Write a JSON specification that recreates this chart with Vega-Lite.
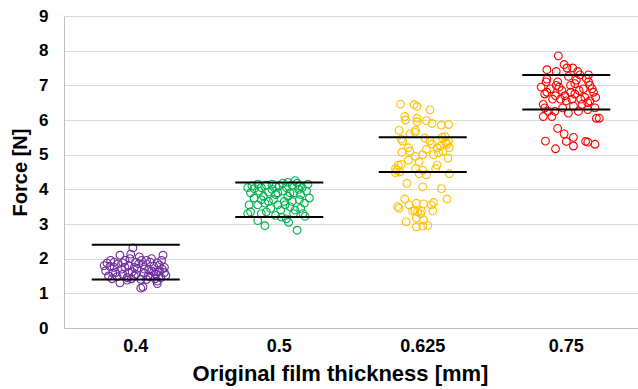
{
"$schema": "https://vega.github.io/schema/vega-lite/v6.json",
"width": 574, "height": 312, "autosize": "none",
"padding": {"left": 64, "top": 16, "right": 0, "bottom": 61},
"background": "white",
"config": {"view": {"stroke": null}, "axis": {"labelFont": "Liberation Sans", "titleFont": "Liberation Sans"}},
"datasets": {
"pts": [
{"t":"0.4","j":-0.40,"f":1.87},{"t":"0.4","j":-0.35,"f":1.95},{"t":"0.4","j":-0.30,"f":1.75},{"t":"0.4","j":-0.28,"f":1.60},{"t":"0.4","j":-0.42,"f":1.65},{"t":"0.4","j":-0.38,"f":1.50},{"t":"0.4","j":-0.33,"f":1.42},{"t":"0.4","j":-0.25,"f":1.85},{"t":"0.4","j":-0.22,"f":2.10},{"t":"0.4","j":-0.20,"f":1.70},{"t":"0.4","j":-0.18,"f":1.55},{"t":"0.4","j":-0.15,"f":1.95},{"t":"0.4","j":-0.12,"f":1.45},{"t":"0.4","j":-0.10,"f":1.80},{"t":"0.4","j":-0.08,"f":2.00},{"t":"0.4","j":-0.05,"f":1.62},{"t":"0.4","j":-0.04,"f":2.31},{"t":"0.4","j":-0.07,"f":2.13},{"t":"0.4","j":-0.02,"f":1.50},{"t":"0.4","j":0.00,"f":1.90},{"t":"0.4","j":0.02,"f":1.72},{"t":"0.4","j":0.05,"f":2.05},{"t":"0.4","j":0.07,"f":1.40},{"t":"0.4","j":0.10,"f":1.83},{"t":"0.4","j":0.12,"f":1.58},{"t":"0.4","j":0.15,"f":1.95},{"t":"0.4","j":0.18,"f":1.68},{"t":"0.4","j":0.20,"f":1.48},{"t":"0.4","j":0.22,"f":2.00},{"t":"0.4","j":0.25,"f":1.78},{"t":"0.4","j":0.28,"f":1.55},{"t":"0.4","j":0.30,"f":1.88},{"t":"0.4","j":0.33,"f":1.65},{"t":"0.4","j":0.35,"f":1.45},{"t":"0.4","j":0.38,"f":2.10},{"t":"0.4","j":0.40,"f":1.75},{"t":"0.4","j":0.42,"f":1.52},{"t":"0.4","j":0.36,"f":1.95},{"t":"0.4","j":0.30,"f":1.35},{"t":"0.4","j":0.31,"f":1.62},{"t":"0.4","j":-0.22,"f":1.30},{"t":"0.4","j":-0.12,"f":1.38},{"t":"0.4","j":0.07,"f":1.15},{"t":"0.4","j":0.10,"f":1.18},{"t":"0.4","j":0.15,"f":1.40},{"t":"0.4","j":0.30,"f":1.28},{"t":"0.4","j":-0.30,"f":1.90},{"t":"0.4","j":-0.36,"f":1.78},{"t":"0.4","j":-0.26,"f":1.48},{"t":"0.4","j":-0.18,"f":1.88},{"t":"0.4","j":-0.10,"f":1.60},{"t":"0.4","j":0.00,"f":1.55},{"t":"0.4","j":0.04,"f":1.85},{"t":"0.4","j":0.12,"f":1.70},{"t":"0.4","j":0.20,"f":1.90},{"t":"0.4","j":0.25,"f":1.62},{"t":"0.4","j":0.27,"f":1.42},{"t":"0.4","j":0.33,"f":1.82},{"t":"0.4","j":0.40,"f":1.60},{"t":"0.4","j":-0.44,"f":1.80},{"t":"0.4","j":-0.02,"f":1.75},{"t":"0.4","j":0.08,"f":1.95},{"t":"0.4","j":0.17,"f":1.50},{"t":"0.4","j":-0.15,"f":1.75},{"t":"0.4","j":-0.06,"f":1.42},{"t":"0.4","j":0.22,"f":1.65},{"t":"0.4","j":-0.32,"f":1.58},{"t":"0.4","j":0.37,"f":1.70},
{"t":"0.5","j":-0.44,"f":4.05},{"t":"0.5","j":-0.40,"f":3.90},{"t":"0.5","j":-0.38,"f":4.10},{"t":"0.5","j":-0.35,"f":3.75},{"t":"0.5","j":-0.42,"f":3.55},{"t":"0.5","j":-0.40,"f":3.35},{"t":"0.5","j":-0.44,"f":3.30},{"t":"0.5","j":-0.30,"f":4.15},{"t":"0.5","j":-0.28,"f":3.95},{"t":"0.5","j":-0.25,"f":4.05},{"t":"0.5","j":-0.22,"f":3.80},{"t":"0.5","j":-0.20,"f":3.60},{"t":"0.5","j":-0.18,"f":4.12},{"t":"0.5","j":-0.15,"f":3.92},{"t":"0.5","j":-0.25,"f":3.30},{"t":"0.5","j":-0.12,"f":3.45},{"t":"0.5","j":-0.10,"f":4.00},{"t":"0.5","j":-0.08,"f":3.70},{"t":"0.5","j":-0.05,"f":3.85},{"t":"0.5","j":-0.02,"f":3.55},{"t":"0.5","j":0.00,"f":4.10},{"t":"0.5","j":0.02,"f":3.40},{"t":"0.5","j":0.05,"f":3.95},{"t":"0.5","j":0.07,"f":3.65},{"t":"0.5","j":0.10,"f":4.05},{"t":"0.5","j":0.12,"f":3.80},{"t":"0.5","j":0.15,"f":3.50},{"t":"0.5","j":0.18,"f":4.12},{"t":"0.5","j":0.20,"f":3.90},{"t":"0.5","j":0.22,"f":4.25},{"t":"0.5","j":0.25,"f":4.18},{"t":"0.5","j":0.27,"f":4.00},{"t":"0.5","j":0.28,"f":3.70},{"t":"0.5","j":0.30,"f":3.85},{"t":"0.5","j":0.32,"f":4.05},{"t":"0.5","j":0.35,"f":3.60},{"t":"0.5","j":0.38,"f":3.95},{"t":"0.5","j":0.40,"f":4.15},{"t":"0.5","j":0.42,"f":3.75},{"t":"0.5","j":0.30,"f":3.45},{"t":"0.5","j":0.36,"f":3.22},{"t":"0.5","j":0.22,"f":3.40},{"t":"0.5","j":0.18,"f":3.65},{"t":"0.5","j":-0.30,"f":3.10},{"t":"0.5","j":-0.20,"f":2.95},{"t":"0.5","j":-0.18,"f":3.35},{"t":"0.5","j":-0.05,"f":3.25},{"t":"0.5","j":0.03,"f":3.20},{"t":"0.5","j":0.10,"f":3.15},{"t":"0.5","j":0.13,"f":3.05},{"t":"0.5","j":0.25,"f":2.82},{"t":"0.5","j":0.20,"f":3.30},{"t":"0.5","j":-0.35,"f":4.02},{"t":"0.5","j":-0.10,"f":4.15},{"t":"0.5","j":0.05,"f":4.18},{"t":"0.5","j":-0.15,"f":3.65},{"t":"0.5","j":0.08,"f":3.55},{"t":"0.5","j":0.15,"f":3.90},{"t":"0.5","j":-0.30,"f":3.55},{"t":"0.5","j":0.28,"f":4.10},{"t":"0.5","j":-0.02,"f":3.90},{"t":"0.5","j":0.33,"f":3.30},{"t":"0.5","j":-0.25,"f":3.70},{"t":"0.5","j":0.12,"f":4.20},{"t":"0.5","j":-0.05,"f":4.08},
{"t":"0.625","j":-0.31,"f":6.46},{"t":"0.625","j":-0.12,"f":6.44},{"t":"0.625","j":-0.08,"f":6.39},{"t":"0.625","j":0.10,"f":6.29},{"t":"0.625","j":-0.25,"f":6.10},{"t":"0.625","j":-0.24,"f":6.00},{"t":"0.625","j":-0.08,"f":6.05},{"t":"0.625","j":-0.08,"f":5.95},{"t":"0.625","j":0.05,"f":5.98},{"t":"0.625","j":0.13,"f":5.90},{"t":"0.625","j":0.26,"f":5.85},{"t":"0.625","j":0.36,"f":5.87},{"t":"0.625","j":-0.33,"f":5.70},{"t":"0.625","j":-0.18,"f":5.60},{"t":"0.625","j":-0.11,"f":5.65},{"t":"0.625","j":-0.10,"f":5.70},{"t":"0.625","j":-0.30,"f":5.45},{"t":"0.625","j":-0.28,"f":5.39},{"t":"0.625","j":0.03,"f":5.48},{"t":"0.625","j":0.27,"f":5.50},{"t":"0.625","j":0.31,"f":5.52},{"t":"0.625","j":0.36,"f":5.40},{"t":"0.625","j":0.34,"f":5.30},{"t":"0.625","j":0.37,"f":5.20},{"t":"0.625","j":0.32,"f":5.35},{"t":"0.625","j":0.28,"f":5.10},{"t":"0.625","j":-0.29,"f":5.07},{"t":"0.625","j":-0.20,"f":5.20},{"t":"0.625","j":-0.18,"f":5.10},{"t":"0.625","j":0.13,"f":5.30},{"t":"0.625","j":0.20,"f":5.20},{"t":"0.625","j":0.22,"f":5.05},{"t":"0.625","j":0.05,"f":5.15},{"t":"0.625","j":0.00,"f":5.00},{"t":"0.625","j":-0.05,"f":4.80},{"t":"0.625","j":-0.10,"f":4.95},{"t":"0.625","j":0.20,"f":4.70},{"t":"0.625","j":0.18,"f":4.60},{"t":"0.625","j":0.35,"f":4.90},{"t":"0.625","j":0.25,"f":5.25},{"t":"0.625","j":0.10,"f":5.40},{"t":"0.625","j":0.15,"f":5.00},{"t":"0.625","j":-0.38,"f":4.60},{"t":"0.625","j":-0.36,"f":4.55},{"t":"0.625","j":-0.34,"f":4.70},{"t":"0.625","j":-0.30,"f":4.72},{"t":"0.625","j":-0.32,"f":4.50},{"t":"0.625","j":-0.38,"f":4.48},{"t":"0.625","j":-0.20,"f":4.84},{"t":"0.625","j":-0.10,"f":4.60},{"t":"0.625","j":-0.05,"f":4.45},{"t":"0.625","j":0.05,"f":4.42},{"t":"0.625","j":0.00,"f":4.55},{"t":"0.625","j":0.37,"f":4.45},{"t":"0.625","j":-0.22,"f":4.17},{"t":"0.625","j":0.00,"f":4.07},{"t":"0.625","j":0.26,"f":4.02},{"t":"0.625","j":-0.25,"f":3.72},{"t":"0.625","j":0.34,"f":3.72},{"t":"0.625","j":0.15,"f":3.62},{"t":"0.625","j":0.12,"f":3.55},{"t":"0.625","j":0.01,"f":3.58},{"t":"0.625","j":-0.09,"f":3.60},{"t":"0.625","j":-0.35,"f":3.50},{"t":"0.625","j":-0.33,"f":3.45},{"t":"0.625","j":-0.19,"f":3.55},{"t":"0.625","j":-0.14,"f":3.37},{"t":"0.625","j":-0.11,"f":3.40},{"t":"0.625","j":-0.07,"f":3.35},{"t":"0.625","j":-0.03,"f":3.30},{"t":"0.625","j":-0.02,"f":3.37},{"t":"0.625","j":0.14,"f":3.38},{"t":"0.625","j":-0.09,"f":3.17},{"t":"0.625","j":0.01,"f":3.12},{"t":"0.625","j":-0.23,"f":3.06},{"t":"0.625","j":-0.09,"f":2.92},{"t":"0.625","j":0.00,"f":2.94},{"t":"0.625","j":0.07,"f":2.96},
{"t":"0.75","j":-0.11,"f":7.85},{"t":"0.75","j":-0.03,"f":7.60},{"t":"0.75","j":0.01,"f":7.50},{"t":"0.75","j":0.09,"f":7.50},{"t":"0.75","j":0.16,"f":7.40},{"t":"0.75","j":-0.27,"f":7.45},{"t":"0.75","j":-0.14,"f":7.40},{"t":"0.75","j":0.31,"f":7.30},{"t":"0.75","j":0.19,"f":7.30},{"t":"0.75","j":0.03,"f":7.26},{"t":"0.75","j":-0.27,"f":7.18},{"t":"0.75","j":-0.28,"f":7.10},{"t":"0.75","j":-0.12,"f":7.10},{"t":"0.75","j":-0.14,"f":7.00},{"t":"0.75","j":0.14,"f":7.15},{"t":"0.75","j":0.12,"f":7.05},{"t":"0.75","j":0.31,"f":7.10},{"t":"0.75","j":0.33,"f":7.00},{"t":"0.75","j":-0.27,"f":6.80},{"t":"0.75","j":-0.30,"f":6.75},{"t":"0.75","j":0.06,"f":7.00},{"t":"0.75","j":0.06,"f":6.80},{"t":"0.75","j":-0.06,"f":6.85},{"t":"0.75","j":-0.08,"f":6.60},{"t":"0.75","j":-0.02,"f":6.70},{"t":"0.75","j":-0.15,"f":6.70},{"t":"0.75","j":-0.19,"f":6.60},{"t":"0.75","j":0.08,"f":6.60},{"t":"0.75","j":0.20,"f":6.60},{"t":"0.75","j":0.26,"f":6.65},{"t":"0.75","j":0.30,"f":6.50},{"t":"0.75","j":0.41,"f":6.65},{"t":"0.75","j":0.38,"f":6.80},{"t":"0.75","j":0.33,"f":6.55},{"t":"0.75","j":0.24,"f":6.90},{"t":"0.75","j":0.18,"f":6.85},{"t":"0.75","j":-0.22,"f":6.90},{"t":"0.75","j":-0.10,"f":6.95},{"t":"0.75","j":0.00,"f":6.55},{"t":"0.75","j":0.12,"f":6.75},{"t":"0.75","j":-0.32,"f":6.45},{"t":"0.75","j":-0.30,"f":6.35},{"t":"0.75","j":-0.25,"f":6.25},{"t":"0.75","j":-0.32,"f":6.10},{"t":"0.75","j":-0.20,"f":6.10},{"t":"0.75","j":-0.16,"f":6.25},{"t":"0.75","j":0.03,"f":6.20},{"t":"0.75","j":0.17,"f":6.25},{"t":"0.75","j":0.30,"f":6.30},{"t":"0.75","j":0.40,"f":6.35},{"t":"0.75","j":0.10,"f":6.40},{"t":"0.75","j":-0.05,"f":6.35},{"t":"0.75","j":0.22,"f":6.45},{"t":"0.75","j":0.42,"f":6.05},{"t":"0.75","j":0.46,"f":6.05},{"t":"0.75","j":-0.12,"f":5.76},{"t":"0.75","j":-0.03,"f":5.60},{"t":"0.75","j":0.10,"f":5.50},{"t":"0.75","j":-0.29,"f":5.39},{"t":"0.75","j":0.00,"f":5.38},{"t":"0.75","j":0.27,"f":5.38},{"t":"0.75","j":0.30,"f":5.36},{"t":"0.75","j":0.40,"f":5.30},{"t":"0.75","j":0.10,"f":5.25},{"t":"0.75","j":-0.15,"f":5.17},{"t":"0.75","j":0.36,"f":6.90},{"t":"0.75","j":-0.35,"f":6.95},{"t":"0.75","j":0.28,"f":7.20}
],
"bounds": [
{"t":"0.4","f":2.4},{"t":"0.4","f":1.4},
{"t":"0.5","f":4.2},{"t":"0.5","f":3.2},
{"t":"0.625","f":5.5},{"t":"0.625","f":4.5},
{"t":"0.75","f":7.3},{"t":"0.75","f":6.3}
]
},
"layer": [
{
"data": {"name": "pts"},
"mark": {"type": "point", "filled": false, "size": 60, "strokeWidth": 1.1, "opacity": 1},
"encoding": {
"x": {"field": "t", "type": "ordinal", "sort": ["0.4","0.5","0.625","0.75"],
"scale": {"paddingInner": 0, "paddingOuter": 0},
"axis": {"labelAngle": 0, "ticks": false, "domainColor": "#bfbfbf", "labelFontSize": 18, "labelFontWeight": "bold", "labelColor": "black", "labelPadding": 9, "title": "Original film thickness [mm]", "titleFontSize": 22, "titleFontWeight": "bold", "titleColor": "black", "titleX": 276, "titleY": 52, "titleBaseline": "alphabetic", "titleAlign": "center"}},
"xOffset": {"field": "j", "type": "quantitative", "scale": {"domain": [-1, 1]}},
"y": {"field": "f", "type": "quantitative", "scale": {"domain": [0, 9], "nice": false},
"axis": {"tickCount": 9, "grid": true, "gridColor": "#d9d9d9", "domainColor": "#bfbfbf", "ticks": false, "labelFontSize": 17, "labelFontWeight": "bold", "labelColor": "black", "labelPadding": 16, "title": "Force [N]", "titleFontSize": 20, "titleFontWeight": "bold", "titleColor": "black", "titlePadding": 8}},
"color": {"field": "t", "type": "nominal", "scale": {"domain": ["0.4","0.5","0.625","0.75"], "range": ["#7030A0","#00B050","#FFC000","#FF0000"]}, "legend": null}
}
},
{
"data": {"name": "bounds"},
"mark": {"type": "tick", "color": "black", "opacity": 1, "size": 88, "thickness": 2},
"encoding": {
"x": {"field": "t", "type": "ordinal", "sort": ["0.4","0.5","0.625","0.75"]},
"y": {"field": "f", "type": "quantitative"}
}
}
]
}
